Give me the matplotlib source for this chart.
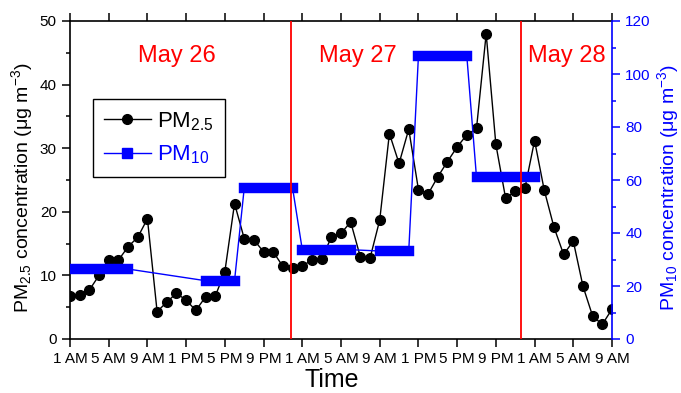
import numpy as np
import matplotlib.pyplot as plt
from matplotlib.lines import Line2D
from matplotlib.ticker import MultipleLocator

plt.rcParams['font.family'] = 'Liberation Sans'
plt.rcParams['mathtext.fontset'] = 'custom'
plt.rcParams['mathtext.rm'] = 'Liberation Sans'
plt.rcParams['mathtext.it'] = 'Liberation Sans:italic'
plt.rcParams['mathtext.default'] = 'regular'

# hourly PM2.5, hour 0 = 1 AM May 26
hours = np.arange(57)
pm25 = [6.8, 6.9, 7.7, 10.0, 12.4, 12.4, 14.5, 16.0, 18.9, 4.3,
        5.8, 7.2, 6.1, 4.5, 6.6, 6.7, 10.6, 21.3, 15.8, 15.6,
        13.7, 13.7, 11.4, 11.1, 11.5, 12.4, 12.6, 16.0, 16.6, 18.4,
        12.9, 12.7, 18.7, 32.3, 27.6, 33.0, 23.5, 22.8, 25.5, 27.9,
        30.2, 32.1, 33.1, 48.0, 30.6, 22.2, 23.2, 23.7, 31.2, 23.4,
        17.6, 13.3, 15.4, 8.3, 3.6, 2.3, 4.7]

# PM10 samples: start hour, end hour, mean concentration
pm10_start = [0, 14, 18, 24, 32, 36, 42]
pm10_end = [6, 17, 23, 29, 35, 41, 48]
pm10 = [26.4, 22.0, 56.9, 33.7, 33.2, 106.8, 61.0]

tick_hours = np.arange(0, 57, 4)
tick_labels = (['1 AM', '5 AM', '9 AM', '1 PM', '5 PM', '9 PM'] * 3)[:len(tick_hours)]

day_breaks = [22.8, 46.6]
day_names = ['May 26', 'May 27', 'May 28']
day_x = [11.0, 29.7, 51.3]

fig, ax = plt.subplots(figsize=(6.81, 3.93), dpi=100)
fig.subplots_adjust(left=70/681, right=612/681, bottom=54/393, top=372/393)

ax.plot(hours, pm25, '-o', color='k', lw=1.0, ms=7)
ax.set_xlim(0, 56)
ax.set_ylim(0, 50)
ax.set_xticks(tick_hours)
ax.set_xticklabels(tick_labels)
ax.yaxis.set_minor_locator(MultipleLocator(5))
ax.tick_params(axis='both', which='major', direction='out', length=6, width=1.1, labelsize=11)
ax.tick_params(axis='x', top=True)
ax.tick_params(axis='y', which='minor', direction='out', length=3, width=1.1)
for s in ['left', 'top', 'bottom']:
    ax.spines[s].set_linewidth(1.2)
ax.spines['right'].set_visible(False)

for x, name in zip(day_x, day_names):
    ax.text(x, 43.5, name, color='red', fontsize=17, ha='center', va='baseline')

ax2 = ax.twinx()
# thin line joining the sample ends, thick bar over each sample period
xs, ys = [], []
for s, e, v in zip(pm10_start, pm10_end, pm10):
    xs += [s, e]
    ys += [v, v]
ax2.plot(xs, ys, color='blue', lw=1.0)
for s, e, v in zip(pm10_start, pm10_end, pm10):
    ax2.plot([s, e], [v, v], color='blue', lw=7.5, solid_capstyle='projecting')
for x in day_breaks:
    ax2.axvline(x, color='red', lw=1.3, zorder=5)
ax2.set_ylim(0, 120)
ax2.set_xlim(0, 56)
ax2.yaxis.set_minor_locator(MultipleLocator(10))
ax2.tick_params(axis='y', which='major', direction='out', length=6, width=1.1, labelsize=11, colors='blue')
ax2.tick_params(axis='y', which='minor', direction='out', length=3, width=1.1, colors='blue')
for s in ['left', 'top', 'bottom']:
    ax2.spines[s].set_visible(False)
ax2.spines['right'].set_color('blue')
ax2.spines['right'].set_linewidth(1.2)

h1 = Line2D([], [], color='k', marker='o', lw=1.0, ms=7)
h2 = Line2D([], [], color='blue', marker='s', lw=1.0, ms=7)
leg = ax2.legend([h1, h2], ['PM$_{2.5}$', 'PM$_{10}$'], loc='upper left',
                 bbox_to_anchor=(0.042, 0.755), borderaxespad=0, borderpad=0.5,
                 fontsize=16, labelcolor=['k', 'blue'], fancybox=False,
                 edgecolor='k', framealpha=1, handlelength=2.1, handletextpad=0.3)
leg.get_frame().set_linewidth(1.0)

fig.text(22/681, 1 - 188/393, 'PM$_{2.5}$ concentration (μg m$^{-3}$)',
         rotation=90, ha='center', va='center', fontsize=14)
fig.text(668/681, 1 - 188/393, 'PM$_{10}$ concentration (μg m$^{-3}$)',
         rotation=90, ha='center', va='center', fontsize=14, color='blue')
fig.text(332/681, 1/393, 'Time', fontsize=18, ha='center', va='bottom')

plt.savefig('out.png', dpi=100)
